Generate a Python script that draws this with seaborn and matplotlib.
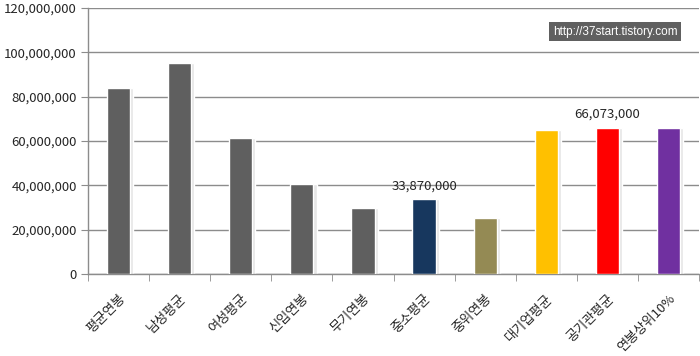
import matplotlib
matplotlib.use("Agg")
import matplotlib.pyplot as plt
from matplotlib.ticker import FuncFormatter, MultipleLocator
import seaborn as sns
import pandas as pd
import numpy as np

# 항목별 연봉 (값은 그림에서 읽음)
categories = ['평균연봉', '남성평균', '여성평균', '신입연봉', '무기연봉',
              '중소평균', '중위연봉', '대기업평균', '공기관평균', '연봉상위10%']
salaries = [84000000, 95000000, 61500000, 40700000, 30000000,
            33870000, 25300000, 64800000, 66073000, 65800000]
bar_colors = ['#5f5f5f', '#5f5f5f', '#5f5f5f', '#5f5f5f', '#5f5f5f',
              '#17375e', '#948a54', '#ffc000', '#ff0000', '#7030a0']
labeled = ['중소평균', '공기관평균']

df = pd.DataFrame({'category': categories, 'salary': salaries})

sns.set_style('white')
plt.rcParams['font.family'] = ['Noto Sans CJK KR', 'DejaVu Sans']

fig = plt.figure(figsize=(7, 3.56), dpi=100)
ax = fig.add_axes([88 / 700, 82 / 356, 611 / 700, 266 / 356])

# light shadow behind bars
ax.bar(np.arange(len(categories)) + 0.05, salaries, width=0.38,
       color='#e6e6e6', zorder=2)
sns.barplot(data=df, x='category', y='salary', hue='category',
            palette=bar_colors, legend=False, width=0.38, ax=ax,
            saturation=1, zorder=3)

ax.set_ylim(0, 120000000)
ax.set_xlim(-0.5, len(categories) - 0.5)
ax.yaxis.set_major_locator(MultipleLocator(20000000))
ax.yaxis.set_major_formatter(FuncFormatter(lambda v, p: f'{int(v):,}'))
ax.grid(axis='y', color='#8c8c8c', linewidth=1, zorder=0)
ax.set_axisbelow(True)

ax.set_xlabel('')
ax.set_ylabel('')
ax.set_xticks(np.arange(len(categories)))
ax.set_xticklabels(categories, rotation=45, ha='right',
                   rotation_mode='anchor', fontsize=9.5)
ax.set_xticks(np.arange(len(categories) + 1) - 0.5, minor=True)
ax.tick_params(axis='x', which='major', length=0, pad=13)
ax.tick_params(axis='x', which='minor', length=5, color='#8c8c8c',
               direction='out', bottom=True)
ax.tick_params(axis='y', length=5, color='#8c8c8c', direction='out',
               left=True, labelsize=9.5, pad=3)

for s in ['top', 'right']:
    ax.spines[s].set_visible(False)
for s in ['left', 'bottom']:
    ax.spines[s].set_color('#8c8c8c')
    ax.spines[s].set_linewidth(1)

for i, (c, v) in enumerate(zip(categories, salaries)):
    if c in labeled:
        ax.text(i, v + 3000000, f'{v:,}', ha='center', va='bottom',
                fontsize=9.5, zorder=4)

fig.text(615 / 700, 1 - 31.5 / 356, 'http://37start.tistory.com',
         ha='center', va='center', color='white', fontsize=8.5,
         family='Liberation Sans',
         bbox=dict(boxstyle='square,pad=0.3', facecolor='#606060',
                   edgecolor='none'), zorder=5)

fig.savefig('out.png', dpi=100)
